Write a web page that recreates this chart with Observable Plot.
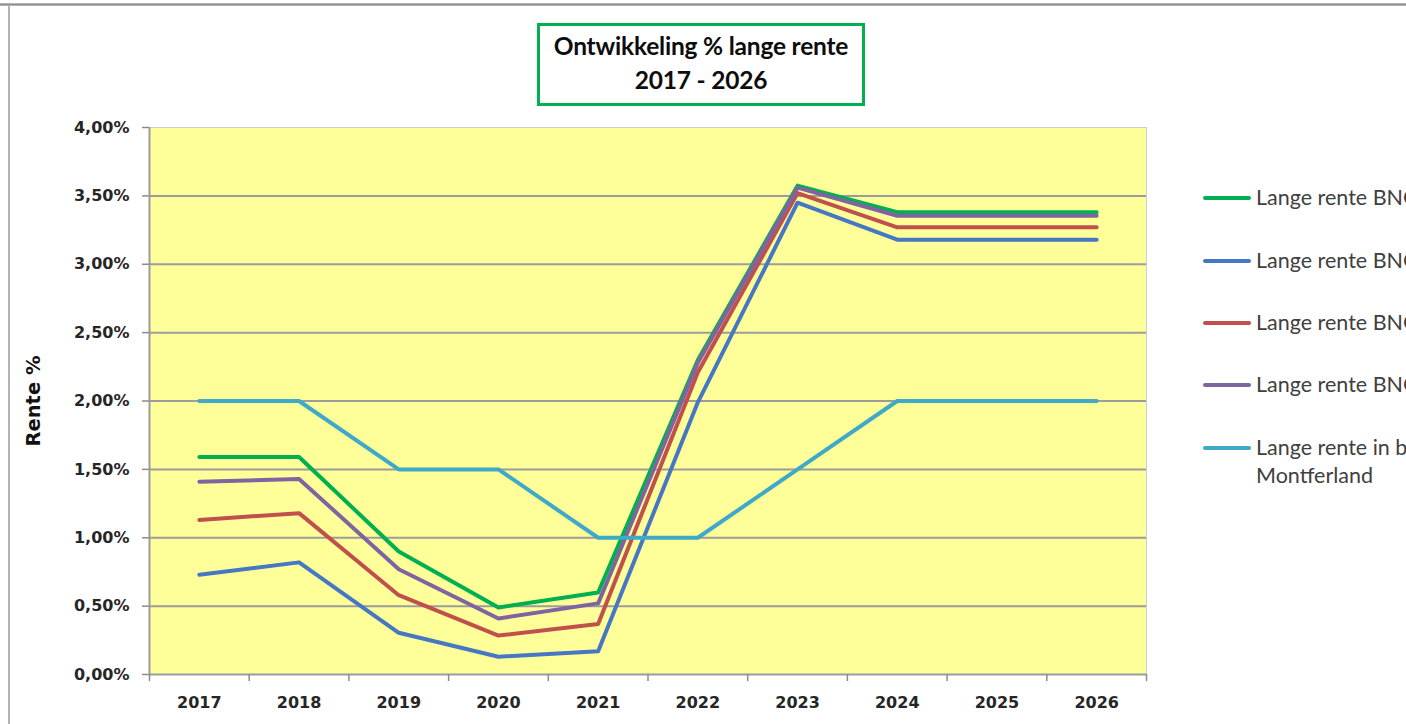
<!DOCTYPE html>
<html>
<head>
<meta charset="utf-8">
<script src="https://cdn.jsdelivr.net/npm/d3@7"></script>
<script src="https://cdn.jsdelivr.net/npm/@observablehq/plot@0.6"></script>
<style>
  html, body { margin: 0; padding: 0; }
  body { width: 1406px; height: 724px; overflow: hidden; background: #ffffff; position: relative; }
  #frameTop { position: absolute; left: 0; top: 3px; width: 1406px; height: 3px; background: linear-gradient(#c8c8c8, #8f8f8f, #c8c8c8); }
  #frameLeft { position: absolute; left: 8px; top: 6px; width: 2px; height: 718px; background: #b4b4b4; }
  #title { position: absolute; left: 537px; top: 23px; width: 322px; height: 74px; border: 3.5px solid #00b050; background: #fff;
           font-family: Lato, sans-serif; font-weight: bold; font-size: 24.5px; color: #0d0d0d; text-align: center; line-height: 34px; padding-top: 3px; box-sizing: content-box; letter-spacing: -0.2px; }
  #chart { position: absolute; left: 0; top: 110px; }
  #legend { position: absolute; left: 0; top: 0; }
  .lg { position: absolute; left: 1203px; white-space: nowrap; font-family: Lato, sans-serif; font-size: 21.5px; color: #404040; }
  .lg .sw { position: absolute; left: 0; width: 48px; height: 4px; border-radius: 2px; }
  .lg .tx { position: absolute; left: 53px; line-height: 28px; }
</style>
</head>
<body>
<div id="frameTop"></div>
<div id="frameLeft"></div>
<div id="chart"></div>
<div id="title"></div>
<div id="legend"></div>
<script>
// ---- data ----
const years = [2017, 2018, 2019, 2020, 2021, 2022, 2023, 2024, 2025, 2026];
const seriesNames = ["Lange rente BNG", "Lange rente BNG ", "Lange rente BNG  ", "Lange rente BNG   ", "Lange rente in begroting Montferland"];
const legendLabels = [["Lange rente BNG"], ["Lange rente BNG"], ["Lange rente BNG"], ["Lange rente BNG"], ["Lange rente in begroting", "Montferland"]];
const seriesColors = ["#00b050", "#4577c4", "#c0504d", "#8064a2", "#3fa9c8"];
const bngGreen  = [1.59, 1.59, 0.90, 0.49, 0.60, 2.30, 3.575, 3.38, 3.38, 3.38];
const bngBlue   = [0.73, 0.82, 0.305, 0.13, 0.17, 1.99, 3.45, 3.18, 3.18, 3.18];
const bngRed    = [1.13, 1.18, 0.58, 0.285, 0.37, 2.21, 3.52, 3.27, 3.27, 3.27];
const bngPurple = [1.41, 1.43, 0.77, 0.41, 0.52, 2.28, 3.56, 3.355, 3.355, 3.355];
const begroting = [2.00, 2.00, 1.50, 1.50, 1.00, 1.00, 1.50, 2.00, 2.00, 2.00];
const yTickValues = [0, 0.5, 1, 1.5, 2, 2.5, 3, 3.5, 4];
const titleLines = ["Ontwikkeling % lange rente", "2017 - 2026"];
const yLabel = "Rente %";

// ---- build table ----
const allSeries = [bngGreen, bngBlue, bngRed, bngPurple, begroting];
const rows = [];
allSeries.forEach((vals, s) => vals.forEach((v, i) => rows.push({series: seriesNames[s], year: years[i], value: v})));
const boundaries = [years[0] - 0.5, ...years.map(y => y + 0.5)];
const fmtPct = d => d.toFixed(2).replace(".", ",") + "%";

const axisFont = "DejaVu Sans, Verdana, sans-serif";

const chart = Plot.plot({
  width: 1150,
  height: 614,
  marginLeft: 149,
  marginRight: 4,
  marginTop: 17,
  marginBottom: 50,
  style: {background: "transparent", fontFamily: axisFont, overflow: "visible"},
  x: {type: "linear", domain: [boundaries[0], boundaries[boundaries.length - 1]]},
  y: {domain: [0, 4]},
  color: {domain: seriesNames, range: seriesColors},
  marks: [
    Plot.frame({fill: "#ffff99", stroke: "#c5cfdb", strokeWidth: 1}),
    Plot.ruleY(yTickValues.filter(d => d > 0 && d < 4), {stroke: "#9c9c9c", strokeWidth: 2}),
    Plot.ruleY([0], {stroke: "#9c9c9c", strokeWidth: 2}),
    Plot.ruleX([boundaries[0]], {stroke: "#9c9c9c", strokeWidth: 2}),
    Plot.axisY({ticks: yTickValues, tickSize: 7, tickPadding: 13, tickFormat: fmtPct, stroke: "#8c8c8c", strokeWidth: 1.5,
                fill: "#262626", fontSize: 16, fontWeight: "bold", label: null}),
    Plot.axisX({ticks: boundaries, tickSize: 7, tickFormat: () => "", stroke: "#8c8c8c", strokeWidth: 1.5, label: null}),
    Plot.axisX({ticks: years, tickSize: 0, tickPadding: 22, tickFormat: d => String(d), fill: "#262626",
                fontSize: 16, fontWeight: "bold", label: null}),
    Plot.line(rows, {x: "year", y: "value", z: "series", stroke: "series", strokeWidth: 4, strokeLinejoin: "round", strokeLinecap: "round"}),
    Plot.text([yLabel], {frameAnchor: "left", dx: -116, rotate: -90, textAnchor: "middle", fontSize: 19.5, fontWeight: "bold", fill: "#111", fontFamily: axisFont})
  ]
});
document.getElementById("chart").appendChild(chart);

// title
document.getElementById("title").innerHTML = titleLines.map(t => `<div>${t}</div>`).join("");

// legend
const legendTops = [198, 261, 323, 385, 448];
const lg = document.getElementById("legend");
legendLabels.forEach((lines, i) => {
  const d = document.createElement("div");
  d.className = "lg";
  d.style.top = (legendTops[i]) + "px";
  d.innerHTML = `<div class="sw" style="background:${seriesColors[i]};top:-2px"></div>` +
    `<div class="tx" style="top:-15px">${lines.join("<br>")}</div>`;
  lg.appendChild(d);
});
</script>
</body>
</html>
